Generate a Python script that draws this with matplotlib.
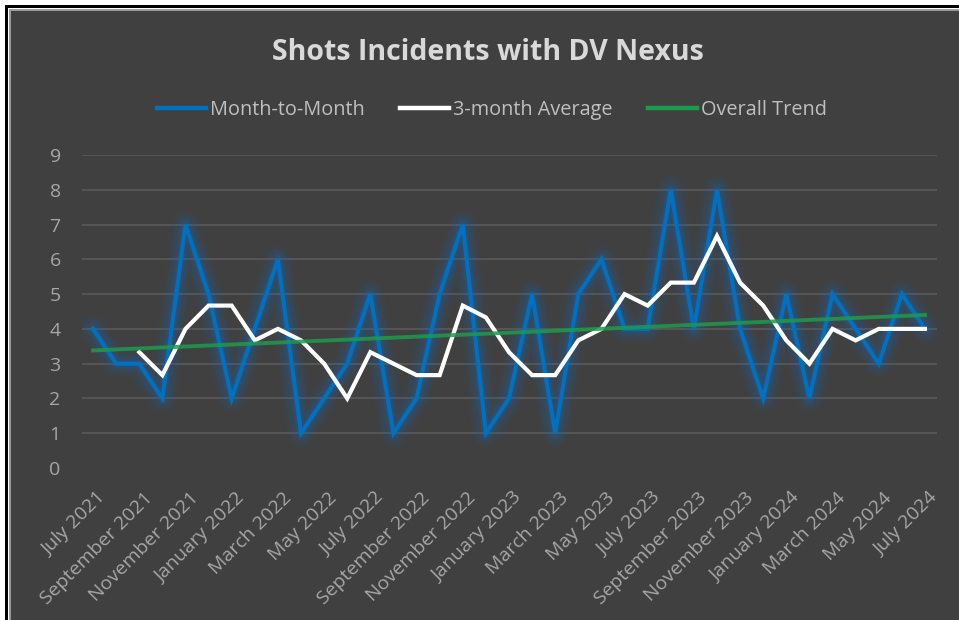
import matplotlib
matplotlib.use("Agg")
import matplotlib.pyplot as plt
from matplotlib.patches import Rectangle
from matplotlib.lines import Line2D
import matplotlib.transforms as mtransforms

plt.rcParams['font.family'] = ['Open Sans', 'DejaVu Sans']

months = ["July 2021", "August 2021", "September 2021", "October 2021", "November 2021", "December 2021",
          "January 2022", "February 2022", "March 2022", "April 2022", "May 2022", "June 2022",
          "July 2022", "August 2022", "September 2022", "October 2022", "November 2022", "December 2022",
          "January 2023", "February 2023", "March 2023", "April 2023", "May 2023", "June 2023",
          "July 2023", "August 2023", "September 2023", "October 2023", "November 2023", "December 2023",
          "January 2024", "February 2024", "March 2024", "April 2024", "May 2024", "June 2024",
          "July 2024"]

month_to_month = [4, 3, 3, 2, 7, 5, 2, 4, 6, 1, 2, 3, 5, 1, 2, 5, 7, 1, 2, 5, 1, 5, 6, 4,
                  4, 8, 4, 8, 4, 2, 5, 2, 5, 4, 3, 5, 4]

three_month_avg = [None, None, 3.33, 2.67, 4.00, 4.67, 4.67, 3.67, 4.00, 3.67, 3.00, 2.00,
                   3.33, 3.00, 2.67, 2.67, 4.67, 4.33, 3.33, 2.67, 2.67, 3.67, 4.00, 5.00,
                   4.67, 5.33, 5.33, 6.67, 5.33, 4.67, 3.67, 3.00, 4.00, 3.67, 4.00, 4.00, 4.00]

trend_months = ["July 2021", "July 2024"]
trend_values = [3.38, 4.40]

y_ticks = [0, 1, 2, 3, 4, 5, 6, 7, 8, 9]

W, H = 959, 620
fig = plt.figure(figsize=(W / 100, H / 100), dpi=100, facecolor='white')

def px_rect(x0, y0_top, x1, y1_bottom, color, z=-10):
    fig.add_artist(Rectangle((x0 / W, 1 - y1_bottom / H), (x1 - x0) / W, (y1_bottom - y0_top) / H,
                             transform=fig.transFigure, facecolor=color, edgecolor='none',
                             linewidth=0, zorder=z))

# outer frame: black lines top & left, then thin grey, then dark chart area
px_rect(5, 5, W, 8, 'black', -12)
px_rect(5, 5, 8, H, 'black', -12)
px_rect(9, 9, W, 11, '#9a9a9a', -11)
px_rect(9, 9, 11, H, '#9a9a9a', -11)
px_rect(11, 11, W, H, '#404040', -10)

ax = fig.add_axes([81.5 / W, 1 - 468 / H, (936.5 - 81.5) / W, (468 - 155) / H])
ax.set_facecolor('none')
x = list(range(len(months)))

for yv in y_ticks[1:]:
    ax.axhline(yv, color='#585858', lw=1.3, zorder=1)

# glow for month-to-month
for lw, a in [(20, 0.05), (15, 0.07), (10, 0.10), (6, 0.14)]:
    ax.plot(x, month_to_month, color='#0a6fd0', lw=lw, alpha=a, solid_joinstyle='round',
            solid_capstyle='round', zorder=2)
ax.plot(x, month_to_month, color='#0070C0', lw=2.9, solid_joinstyle='miter', zorder=3)

avg_x = [i for i, v in enumerate(three_month_avg) if v is not None]
avg_y = [v for v in three_month_avg if v is not None]
ax.plot(avg_x, avg_y, color='white', lw=3.0, zorder=4, solid_joinstyle='miter')

tx = [months.index(m) for m in trend_months]
ax.plot(tx, trend_values, color='#1e9a4c', lw=2.8, alpha=0.85, zorder=5)

ax.set_xlim(-0.5, len(months) - 0.5)
ax.set_ylim(0, 9)
ax.set_yticks(y_ticks)
ax.set_yticklabels([str(v) for v in y_ticks], color='#a6a6a6', fontsize=14)
ax.tick_params(axis='y', length=0, pad=15)
ax.set_xticks(x[::2])
ax.set_xticklabels(months[::2], rotation=45, ha='right', va='top', rotation_mode='anchor',
                   color='#a6a6a6', fontsize=14)
ax.tick_params(axis='x', length=0, pad=15)
offset = mtransforms.ScaledTranslation(4 / 100, 0, fig.dpi_scale_trans)
for lbl in ax.get_xticklabels():
    lbl.set_transform(lbl.get_transform() + offset)
for s in ax.spines.values():
    s.set_visible(False)

fig.text(488 / W, 1 - 52 / H, "Shots Incidents with DV Nexus", ha='center', va='center',
         fontsize=20.5, fontweight='bold', color='#d9d9d9')

handles = [Line2D([], [], color='#0070C0', lw=3.2),
           Line2D([], [], color='white', lw=3.2),
           Line2D([], [], color='#1e9a4c', lw=3.2)]
labels = ["Month-to-Month", "3-month Average", "Overall Trend"]
leg = fig.legend(handles, labels, loc='center', bbox_to_anchor=(492 / W, 1 - 110 / H), ncol=3,
                 frameon=False, fontsize=14.3, handlelength=2.5, handletextpad=0.2,
                 columnspacing=1.75)
for t in leg.get_texts():
    t.set_color('#bfbfbf')

fig.savefig('out.png', dpi=100, facecolor='white')
